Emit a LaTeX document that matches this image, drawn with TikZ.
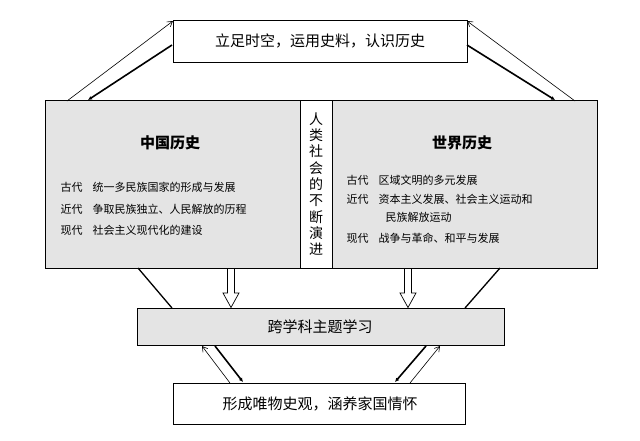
\documentclass[tikz,border=0pt]{standalone}
\usepackage{fontspec}
\setmainfont{Noto Sans CJK SC}
\usetikzlibrary{arrows.meta}
\definecolor{boxgray}{HTML}{E4E4E4}
\begin{document}
\begin{tikzpicture}[x=1pt,y=-1pt,
  bx/.style={draw,line width=1pt},
  thinarr/.style={line width=0.6pt,-{Straight Barb[length=5pt,width=6pt]}},
  thickarr/.style={line width=1.6pt,-{Latex[length=4pt,width=4pt]}},
  hollow/.style={draw,line width=0.7pt,fill=white},
  it/.style={anchor=west,font=\fontsize{11}{12}\selectfont}]
\useasboundingbox (0,0) rectangle (640,440);
\fill[white] (0,0) rectangle (640,440);
\draw[bx] (173,20) rectangle (467,62);
\node (top) at (320,41) {\fontsize{15}{16}\selectfont 立足时空，运用史料，认识历史};
\coordinate (tl) at (173,21); \coordinate (tr) at (467,21);
\draw[bx,fill=boxgray] (45,100) rectangle (597,268);
\draw[bx,fill=white] (300,100) rectangle (332,268);
\node (cn) at (170,143) {\fontsize{15}{16}\selectfont\bfseries 中国历史};
\node (wd) at (462,143) {\fontsize{15}{16}\selectfont\bfseries 世界历史};
\node[align=center,font=\fontsize{14}{16.3}\selectfont] (mid) at (316,184) {人\\类\\社\\会\\的\\不\\断\\演\\进};
\node[it] at (57,187) {古代\hspace{10pt}统一多民族国家的形成与发展};
\node[it] at (57,209) {近代\hspace{10pt}争取民族独立、人民解放的历程};
\node[it] at (57,230) {现代\hspace{10pt}社会主义现代化的建设};
\node[it] at (343,180) {古代\hspace{10pt}区域文明的多元发展};
\node[it] at (343,199) {近代\hspace{10pt}资本主义发展、社会主义运动和};
\node[it] at (382,217) {民族解放运动};
\node[it] at (343,238) {现代\hspace{10pt}战争与革命、和平与发展};
\draw[bx,fill=boxgray] (137,308) rectangle (504,345);
\node (kx) at (320,327) {\fontsize{15}{16}\selectfont 跨学科主题学习};
\draw[bx] (173,383) rectangle (465,424);
\node (bt) at (320,404) {\fontsize{15}{16}\selectfont 形成唯物史观，涵养家国情怀};
% top arrows
\draw[thinarr] (67,101) -- (tl);
\draw[thickarr] (172,45) -- (88,100);
\draw[thinarr] (575,101) -- (tr);
\draw[thickarr] (467,45) -- (555,100);
% lower lines
\draw[line width=1.3pt] (138,268) -- (172,308);
\draw[line width=1.3pt] (500,268) -- (465,308);
\foreach \x in {231,408}
  \draw[hollow] (\x-3.5,268.5) -- (\x+3.5,268.5) -- (\x+3.5,293) -- (\x+8,293) -- (\x,307.5) -- (\x-8,293) -- (\x-3.5,293) -- cycle;
% bottom arrows
\draw[thinarr] (230,383) -- (202,346);
\draw[thickarr] (215,346) -- (243,382);
\draw[thinarr] (410,383) -- (440,346);
\draw[thickarr] (426,346) -- (395,382);
\end{tikzpicture}
\end{document}
